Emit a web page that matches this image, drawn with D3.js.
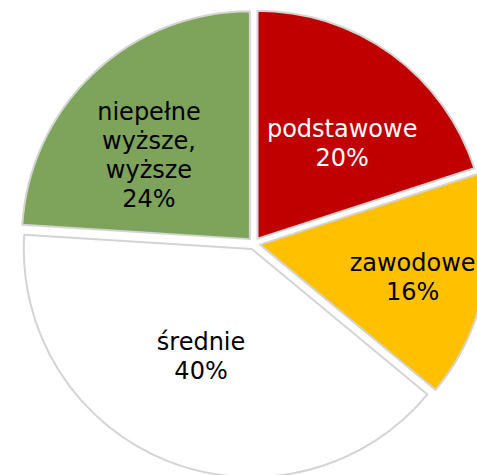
<!DOCTYPE html>
<html>
<head>
<meta charset="utf-8">
<script src="https://cdn.jsdelivr.net/npm/d3@7"></script>
<style>
  body { margin: 0; background: #fff; }
</style>
</head>
<body>
<div id="chart"></div>
<script>
// data
let categories = ["podstawowe", "zawodowe", "średnie", "niepełne wyższe, wyższe"]
let labelLines = [["podstawowe"], ["zawodowe"], ["średnie"], ["niepełne", "wyższe,", "wyższe"]]
let values = [20, 16, 40, 24]
let colors = ["#C00000", "#FFC000", "#FFFFFF", "#7EA35A"]
let textColors = ["#FFFFFF", "#000000", "#000000", "#000000"]

// layout
let svgWidth = 477
let svgHeight = 475
let cx = 254, cy = 243.5
let radius = 228
let explode = 6
let labelR = 127
let lineH = 29
// small nudges so the labels sit where the reference has them
let labelNudge = [[10, 7], [28, 9], [-4, -11], [-14, 9]]

let svg = d3.select("#chart")
    .append("svg")
    .attr("width", svgWidth)
    .attr("height", svgHeight)

let chartGroup = svg.append("g")
    .attr("transform", `translate(${cx}, ${cy})`)

let pie = d3.pie().sort(null).value(d => d)
let arcs = pie(values)

let arc = d3.arc().innerRadius(0).outerRadius(radius)
let labelArc = d3.arc().innerRadius(labelR).outerRadius(labelR)

let slices = chartGroup.selectAll("g.slice")
    .data(arcs)
    .enter()
    .append("g")
    .attr("class", "slice")
    .attr("transform", d => {
        let mid = (d.startAngle + d.endAngle) / 2
        return `translate(${explode * Math.sin(mid)}, ${-explode * Math.cos(mid)})`
    })

slices.append("path")
    .attr("d", arc)
    .attr("fill", (d, i) => colors[i])
    .attr("stroke", "#D4D4D4")
    .attr("stroke-width", 2)
    .attr("stroke-linejoin", "round")

slices.each(function(d, i) {
    let c = labelArc.centroid(d)
    let x = c[0] + labelNudge[i][0]
    let y = c[1] + labelNudge[i][1]
    let lines = labelLines[i].concat([values[i] + "%"])
    let text = d3.select(this).append("text")
        .attr("text-anchor", "middle")
        .attr("font-family", "Verdana, 'DejaVu Sans', sans-serif")
        .attr("font-size", "24px")
        .attr("fill", textColors[i])
    lines.forEach((t, j) => {
        text.append("tspan")
            .attr("x", x)
            .attr("y", y + (j - (lines.length - 1) / 2) * lineH)
            .attr("dy", "0.35em")
            .text(t)
    })
})
</script>
</body>
</html>
